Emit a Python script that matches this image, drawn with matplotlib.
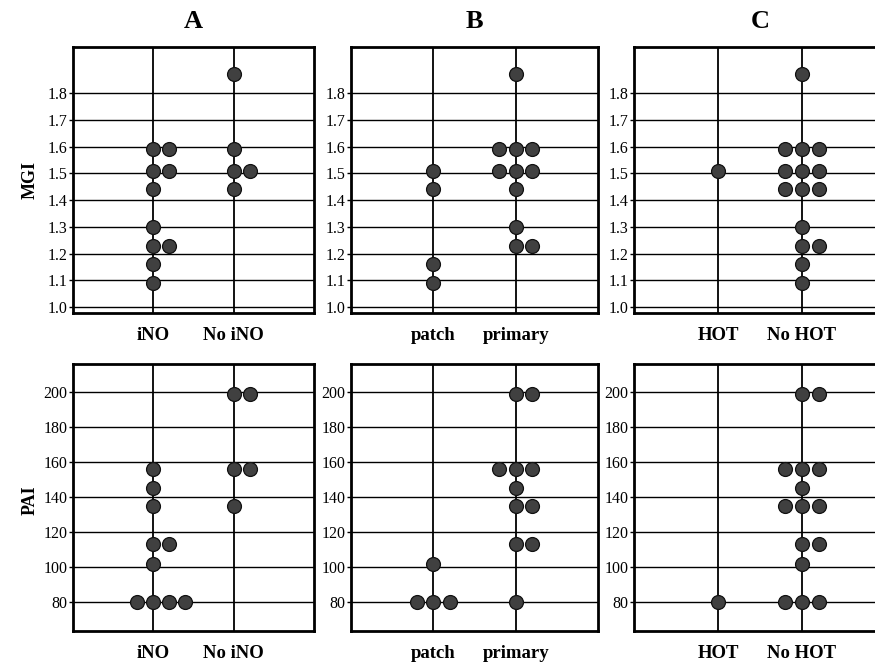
import matplotlib
matplotlib.use("Agg")
import matplotlib.pyplot as plt
import numpy as np
from collections import Counter

plt.rcParams['font.family'] = ['Liberation Serif', 'DejaVu Serif']

# MGI values per group
mgi_ino = [1.59, 1.59, 1.51, 1.51, 1.44, 1.30, 1.23, 1.23, 1.16, 1.09]
mgi_no_ino = [1.87, 1.59, 1.51, 1.51, 1.44]
mgi_patch = [1.51, 1.44, 1.16, 1.09]
mgi_primary = [1.87, 1.59, 1.59, 1.59, 1.51, 1.51, 1.51, 1.44, 1.30, 1.23, 1.23]
mgi_hot = [1.51]
mgi_no_hot = [1.87, 1.59, 1.59, 1.59, 1.51, 1.51, 1.51, 1.44, 1.44, 1.44,
              1.30, 1.23, 1.23, 1.16, 1.09]

# PAI values per group
pai_ino = [156, 145, 135, 113, 113, 102, 80, 80, 80, 80]
pai_no_ino = [199, 199, 156, 156, 135]
pai_patch = [102, 80, 80, 80]
pai_primary = [199, 199, 156, 156, 156, 145, 135, 135, 113, 113, 80]
pai_hot = [80]
pai_no_hot = [199, 199, 156, 156, 156, 145, 135, 135, 135, 113, 113, 102, 80, 80, 80]

titles = ['A', 'B', 'C']
cat_labels = [['iNO', 'No iNO'], ['patch', 'primary'], ['HOT', 'No HOT']]
mgi_groups = [(mgi_ino, mgi_no_ino), (mgi_patch, mgi_primary), (mgi_hot, mgi_no_hot)]
pai_groups = [(pai_ino, pai_no_ino), (pai_patch, pai_primary), (pai_hot, pai_no_hot)]
mgi_ticks = [1.0, 1.1, 1.2, 1.3, 1.4, 1.5, 1.6, 1.7, 1.8]
pai_ticks = [80, 100, 120, 140, 160, 180, 200]


def dot_positions(center, vals, step=0.2):
    # stack equal values side by side, starting one step left when 3+
    xs, ys = [], []
    for v, n in Counter(vals).items():
        start = -((n - 1) // 2)
        for k in range(n):
            xs.append(center + (start + k) * step)
            ys.append(v)
    return xs, ys


fig = plt.figure(figsize=(8.75, 6.63), dpi=100)

W, H = 875.0, 663.0
cols = [(73, 314), (351, 598), (634, 886)]
rows = [(47, 313), (364, 631)]


def draw_panel(ax, groups, ticks, ylim, labels, fmt):
    ax.set_xlim(0, 3)
    ax.set_ylim(*ylim)
    for t in ticks:
        ax.axhline(t, color='black', lw=1.0, zorder=1)
    for c in (1, 2):
        ax.axvline(c, color='black', lw=1.3, zorder=1)
    for c, vals in zip((1, 2), groups):
        xs, ys = dot_positions(c, vals)
        ax.scatter(xs, ys, s=100, color='#404040', edgecolors='#111111',
                   linewidths=0.9, zorder=3)
    ax.set_yticks(ticks)
    ax.set_yticklabels([fmt(t) for t in ticks], fontsize=11.5)
    ax.set_xticks([1, 2])
    ax.set_xticklabels(labels, fontsize=13.5, fontweight='bold')
    ax.tick_params(axis='x', length=0, pad=10)
    ax.tick_params(axis='y', length=3, width=1.0, pad=1)
    for s in ax.spines.values():
        s.set_linewidth(2.0)


for i in range(3):
    x0, x1 = cols[i]
    for r in range(2):
        y0, y1 = rows[r]
        ax = fig.add_axes([x0 / W, 1 - y1 / H, (x1 - x0) / W, (y1 - y0) / H])
        if r == 0:
            draw_panel(ax, mgi_groups[i], mgi_ticks, (0.978, 1.972),
                       cat_labels[i], lambda t: f'{t:.1f}')
            ax.set_title(titles[i], fontsize=19, fontweight='bold', pad=14)
        else:
            draw_panel(ax, pai_groups[i], pai_ticks, (63.5, 216),
                       cat_labels[i], lambda t: f'{t:d}')

fig.text(30 / W, 1 - 180 / H, 'MGI', rotation=90, fontsize=13, fontweight='bold',
         ha='center', va='center')
fig.text(30 / W, 1 - 500 / H, 'PAI', rotation=90, fontsize=13, fontweight='bold',
         ha='center', va='center')

fig.savefig('out.png', dpi=100)
